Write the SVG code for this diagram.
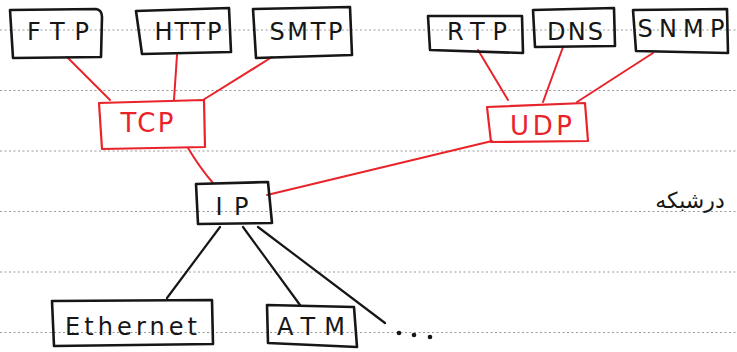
<svg xmlns="http://www.w3.org/2000/svg" width="737" height="352" viewBox="0 0 737 352">
<style>
.rule{stroke:#9a9a9a;stroke-width:1.2;stroke-dasharray:2 2.5;fill:none}
.bk{fill:none;stroke:#161616;stroke-width:2.6;stroke-linejoin:round}
.rd{fill:none;stroke:#e8242a;stroke-width:2.2;stroke-linejoin:round}
.lk{fill:none;stroke:#161616;stroke-width:2.2;stroke-linecap:round}
.lr{fill:none;stroke:#e8242a;stroke-width:2;stroke-linecap:round}
.t{font-family:"DejaVu Sans",sans-serif;font-size:24px;text-anchor:middle;fill:#161616}
.tr{font-family:"DejaVu Sans",sans-serif;font-size:26px;text-anchor:middle;fill:#e8242a}
</style>
<rect width="737" height="352" fill="#ffffff"/>
<g id="rules">
<line class="rule" x1="0" y1="30" x2="737" y2="30"/>
<line class="rule" x1="0" y1="90.5" x2="737" y2="90.5"/>
<line class="rule" x1="0" y1="151" x2="737" y2="151"/>
<line class="rule" x1="0" y1="211.5" x2="737" y2="211.5"/>
<line class="rule" x1="0" y1="272" x2="737" y2="272"/>
<line class="rule" x1="0" y1="332.5" x2="737" y2="332.5"/>
</g>
<g id="connectors">
<path class="lr" d="M67 57 L110 100"/>
<path class="lr" d="M177 55 L174 100"/>
<path class="lr" d="M272 57 L203 100"/>
<path class="lr" d="M478 50 L508 100"/>
<path class="lr" d="M563 47 L543 102"/>
<path class="lr" d="M653 53 L577 102"/>
<path class="lr" d="M188 148 Q200 168 213 183"/>
<path class="lr" d="M492 141 Q390 165 267 195"/>
<path class="lk" d="M220 227 L167 298"/>
<path class="lk" d="M243 227 L300 305"/>
<path class="lk" d="M258 227 L385 323"/>
</g>
<g id="FTP"><path class="bk" d="M10 10 L96 9 Q102 10 102 17 L101 57 L13 58 Z"/><text class="t" x="58" y="40" textLength="62" lengthAdjust="spacing">FTP</text></g>
<g id="HTTP"><path class="bk" d="M136 11 L229 8 L231 52 L142 54 Z"/><text class="t" x="188" y="40" textLength="67" lengthAdjust="spacing">HTTP</text></g>
<g id="SMTP"><path class="bk" d="M253 9 L350 7 L352 55 L256 58 Z"/><text class="t" x="306" y="40" textLength="73" lengthAdjust="spacing">SMTP</text></g>
<g id="RTP"><path class="bk" d="M428 16 L522 16 L523 53 L430 50 Z"/><text class="t" x="477" y="40" textLength="60" lengthAdjust="spacing">RTP</text></g>
<g id="DNS"><path class="bk" d="M533 10 L614 8 L615 46 L535 47 Z"/><text class="t" x="575" y="40" textLength="56" lengthAdjust="spacing">DNS</text></g>
<g id="SNMP"><path class="bk" d="M633 10 L727 9 L728 53 L636 51 Z"/><text class="t" x="681" y="37" textLength="87" lengthAdjust="spacing">SNMP</text></g>
<g id="TCP"><path class="rd" d="M99 103 L204 100 L205 147 L102 149 Z"/><text class="tr" x="147" y="132" textLength="53" lengthAdjust="spacing">TCP</text></g>
<g id="UDP"><path class="rd" d="M487 107 L585 103 L588 141 L491 142 Z"/><text class="tr" x="541" y="135" textLength="62" lengthAdjust="spacing">UDP</text></g>
<g id="IP"><path class="bk" d="M196 184 L268 182 L272 223 L198 224 Z"/><text class="t" x="232" y="215" textLength="33" lengthAdjust="spacing">IP</text></g>
<g id="Ethernet"><path class="bk" d="M52 301 L212 300 L213 344 L54 346 Z"/><text class="t" x="131" y="335" textLength="132" lengthAdjust="spacing">Ethernet</text></g>
<g id="ATM"><path class="bk" d="M267 305 L354 307 L357 347 L268 343 Z"/><text class="t" x="311" y="335" textLength="68" lengthAdjust="spacing">ATM</text></g>
<g id="dots" fill="#161616"><circle cx="399" cy="333" r="2.3"/><circle cx="414" cy="335" r="2.3"/><circle cx="430" cy="337" r="2.3"/></g>
<text x="690" y="208" font-family="DejaVu Sans, sans-serif" font-size="22" text-anchor="middle" fill="#161616" direction="rtl">درشبکه</text>
</svg>
